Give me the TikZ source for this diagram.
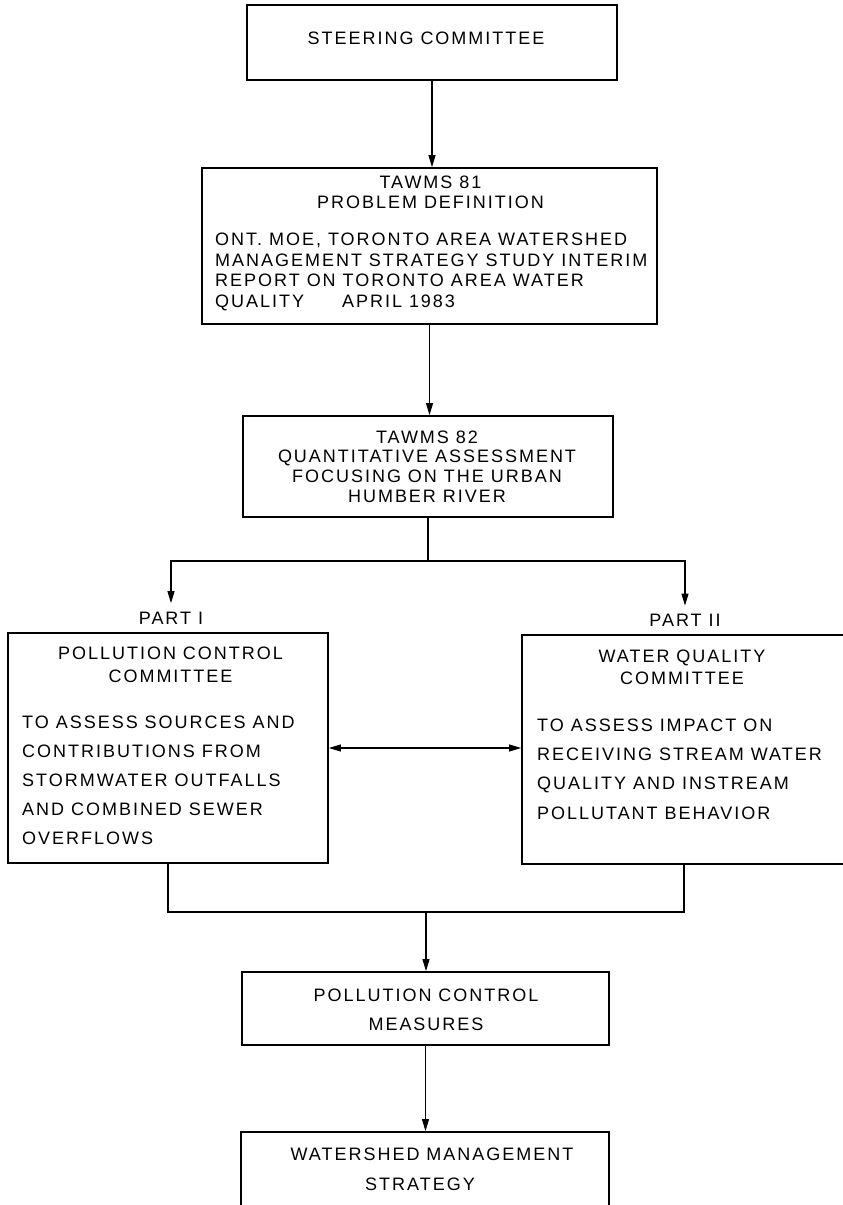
\documentclass[tikz,border=0pt]{standalone}
\usepackage{fontspec}
\setmainfont{Liberation Sans}[LetterSpace=11]
\usetikzlibrary{arrows.meta}
\begin{document}
\begin{tikzpicture}[x=1pt,y=-1pt,
  box/.style={draw, line width=1.8pt, inner sep=0pt},
  txt/.style={inner sep=0pt, font=\fontsize{18}{#1}\selectfont},
  txt/.default=20,
  conn/.style={line width=1.1pt},
  arr/.style={conn, -{Triangle[length=12pt,width=7pt]}},
  darr/.style={conn, {Triangle[length=12pt,width=7pt]}-{Triangle[length=12pt,width=7pt]}}]
\useasboundingbox (0,0) rectangle (843,1205);
% boxes
\node[box, minimum width=370pt, minimum height=75pt] (steer) at (432,42.5) {};
\node[box, minimum width=455pt, minimum height=156pt] (b81) at (429.5,246) {};
\node[box, minimum width=370pt, minimum height=101pt] (b82) at (428,466.5) {};
\node[box, minimum width=320pt, minimum height=230pt] (pcc) at (168,748) {};
\node[box, minimum width=324pt, minimum height=229pt] (wqc) at (684,749.5) {};
\node[box, minimum width=367pt, minimum height=73pt] (pcm) at (425.5,1008.5) {};
\node[box, minimum width=368pt, minimum height=75pt] (wms) at (425,1169.5) {};
% texts
\node[txt] (tsteer) at (426,38.5) {STEERING COMMITTEE};
\node[txt, align=center] (t81a) at (430.5,192) {TAWMS 81\\PROBLEM DEFINITION};
\node[txt=20.6, align=left, anchor=west] (t81b) at (215,272)
  {ONT. MOE, TORONTO AREA WATERSHED\\MANAGEMENT STRATEGY STUDY INTERIM\\REPORT ON TORONTO AREA WATER\\QUALITY\hspace{38pt}APRIL 1983};
\node[txt=19.7, align=center] (t82) at (427,466.5)
  {TAWMS 82\\QUANTITATIVE ASSESSMENT\\FOCUSING ON THE URBAN\\HUMBER RIVER};
\node[txt] (part1) at (171,618.5) {PART I};
\node[txt] (part2) at (685,620) {PART II};
\node[txt=22.5, align=center] (tpcca) at (170.5,665) {POLLUTION CONTROL\\COMMITTEE};
\node[txt=29, align=left, anchor=west] (tpccb) at (22,780)
  {TO ASSESS SOURCES AND\\CONTRIBUTIONS FROM\\STORMWATER OUTFALLS\\AND COMBINED SEWER\\OVERFLOWS};
\node[txt=22, align=center] (twqca) at (682,667) {WATER QUALITY\\COMMITTEE};
\node[txt=29.2, align=left, anchor=west] (twqcb) at (537,769)
  {TO ASSESS IMPACT ON\\RECEIVING STREAM WATER\\QUALITY AND INSTREAM\\POLLUTANT BEHAVIOR};
\node[txt=29, align=center] (tpcm) at (426,1010) {POLLUTION CONTROL\\MEASURES};
\node[txt=30, align=center] (twms) at (432,1169) {WATERSHED MANAGEMENT\\STRATEGY\kern24pt};
% coordinates
\coordinate (split) at (428,561);
\coordinate (join) at (426,912);
% connectors
\draw[arr] (steer.south) -- (steer.south |- b81.north);
\draw[arr] (b81.south) -- (b81.south |- b82.north);
\draw[conn] (b82.south) -- (split);
\draw[arr, shorten >=9pt] (split) -| (part1.north);
\draw[arr, shorten >=8pt] (split) -| (part2.north);
\draw[darr] (pcc.east) -- (pcc.east -| wqc.west);
\draw[conn] (pcc.south) |- (join);
\draw[conn] (wqc.south) |- (join);
\draw[arr] (join) -- (join |- pcm.north);
\draw[arr] (pcm.south) -- (pcm.south |- wms.north);
\end{tikzpicture}
\end{document}
